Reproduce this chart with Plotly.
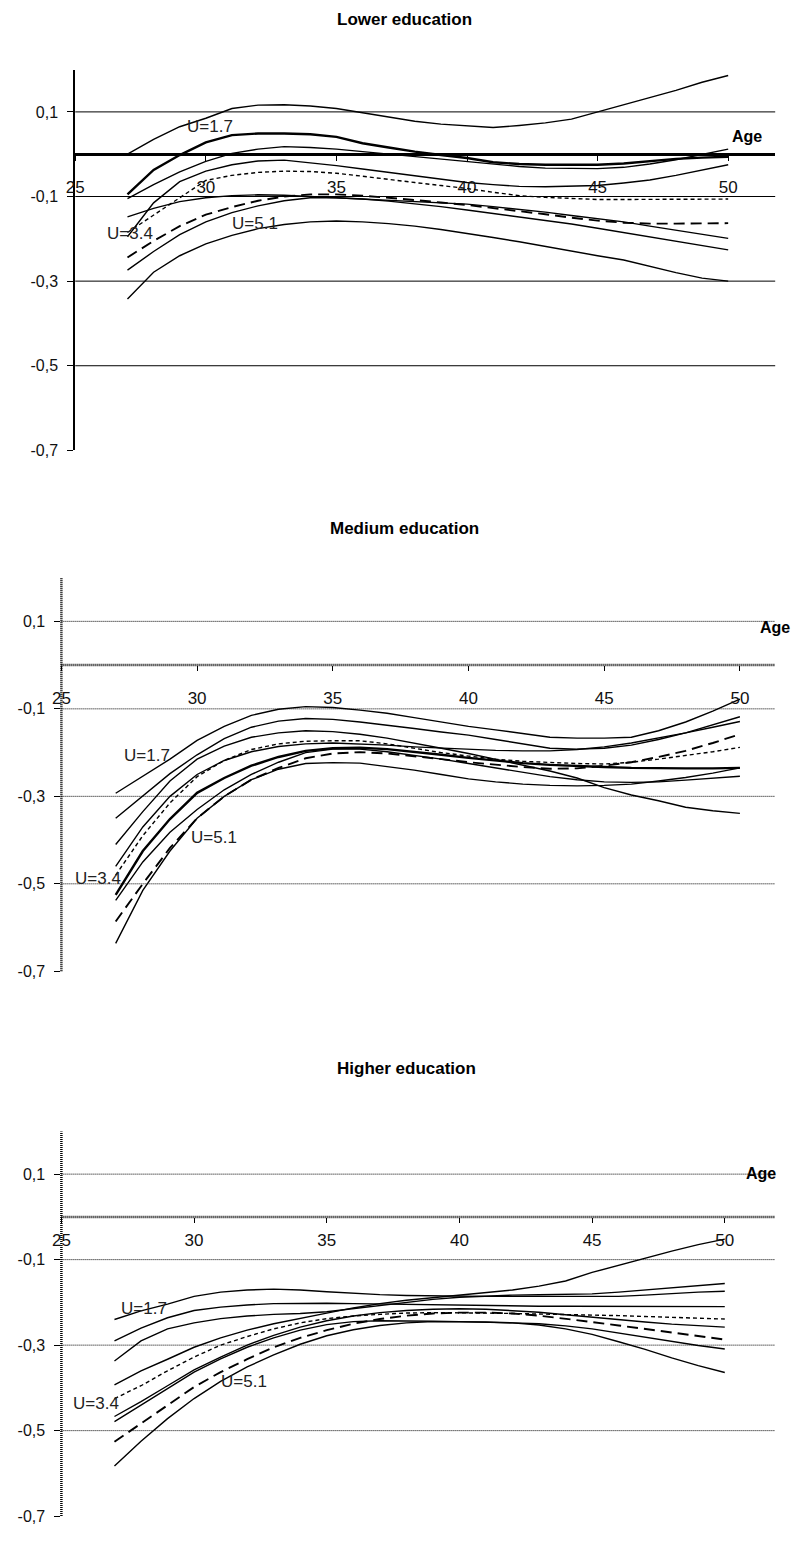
import plotly.graph_objects as go

# ---------------- data ----------------
ages = list(range(27, 51))
x_ticks = [25, 30, 35, 40, 45, 50]
y_ticks = [0.1, -0.1, -0.3, -0.5, -0.7]
y_ticktext = ["0,1", "-0,1", "-0,3", "-0,5", "-0,7"]
grid_vals = [0.1, -0.1, -0.3, -0.5]
panel_titles = ["Lower education", "Medium education", "Higher education"]
u_labels = ["U=1.7", "U=3.4", "U=5.1"]

# Lower education
low_a = [0.000, 0.035, 0.065, 0.085, 0.108, 0.116, 0.117, 0.114, 0.108, 0.098, 0.088, 0.078, 0.071, 0.067, 0.063, 0.068, 0.074, 0.083, 0.100, 0.116, 0.133, 0.151, 0.170, 0.186]
low_b = [-0.095, -0.037, -0.002, 0.028, 0.045, 0.049, 0.049, 0.047, 0.041, 0.026, 0.016, 0.006, -0.002, -0.009, -0.019, -0.023, -0.025, -0.025, -0.025, -0.022, -0.017, -0.011, -0.008, -0.006]
low_c = [-0.105, -0.072, -0.042, -0.017, 0.002, 0.012, 0.018, 0.016, 0.012, 0.006, 0.000, -0.005, -0.011, -0.017, -0.023, -0.029, -0.033, -0.034, -0.034, -0.031, -0.023, -0.013, 0.000, 0.012]
low_d = [-0.195, -0.115, -0.065, -0.040, -0.025, -0.016, -0.014, -0.020, -0.027, -0.035, -0.043, -0.052, -0.060, -0.067, -0.072, -0.076, -0.077, -0.076, -0.074, -0.068, -0.061, -0.050, -0.038, -0.025]
low_e = [-0.185, -0.145, -0.103, -0.062, -0.050, -0.043, -0.040, -0.041, -0.045, -0.052, -0.060, -0.067, -0.074, -0.081, -0.090, -0.098, -0.102, -0.105, -0.107, -0.107, -0.107, -0.107, -0.107, -0.106]
low_f = [-0.244, -0.205, -0.170, -0.143, -0.125, -0.110, -0.100, -0.095, -0.095, -0.098, -0.103, -0.108, -0.114, -0.120, -0.127, -0.134, -0.142, -0.150, -0.157, -0.162, -0.164, -0.164, -0.164, -0.163]
low_g = [-0.148, -0.128, -0.112, -0.103, -0.098, -0.096, -0.097, -0.100, -0.103, -0.106, -0.109, -0.112, -0.115, -0.118, -0.124, -0.130, -0.137, -0.145, -0.152, -0.160, -0.170, -0.180, -0.190, -0.199]
low_i = [-0.274, -0.230, -0.190, -0.160, -0.138, -0.122, -0.110, -0.103, -0.103, -0.106, -0.111, -0.117, -0.124, -0.132, -0.140, -0.148, -0.156, -0.165, -0.175, -0.185, -0.195, -0.205, -0.215, -0.226]
low_h = [-0.342, -0.279, -0.240, -0.212, -0.192, -0.176, -0.166, -0.160, -0.158, -0.160, -0.164, -0.170, -0.178, -0.187, -0.197, -0.207, -0.218, -0.230, -0.240, -0.250, -0.265, -0.280, -0.293, -0.300]

# Medium education
med_1 = [-0.293, -0.255, -0.215, -0.172, -0.140, -0.115, -0.101, -0.095, -0.097, -0.103, -0.110, -0.120, -0.130, -0.140, -0.148, -0.156, -0.165, -0.167, -0.167, -0.165, -0.150, -0.130, -0.105, -0.078]
med_2 = [-0.350, -0.298, -0.248, -0.205, -0.168, -0.142, -0.128, -0.122, -0.124, -0.130, -0.137, -0.145, -0.153, -0.160, -0.170, -0.180, -0.190, -0.192, -0.190, -0.183, -0.170, -0.155, -0.137, -0.118]
med_3 = [-0.410, -0.335, -0.265, -0.215, -0.185, -0.165, -0.155, -0.150, -0.152, -0.158, -0.167, -0.178, -0.190, -0.202, -0.215, -0.228, -0.242, -0.258, -0.280, -0.297, -0.310, -0.325, -0.333, -0.339]
med_4 = [-0.460, -0.370, -0.300, -0.250, -0.218, -0.198, -0.186, -0.180, -0.178, -0.180, -0.183, -0.187, -0.190, -0.193, -0.195, -0.196, -0.196, -0.193, -0.187, -0.178, -0.167, -0.155, -0.142, -0.129]
med_e = [-0.480, -0.390, -0.315, -0.255, -0.218, -0.193, -0.180, -0.174, -0.173, -0.173, -0.180, -0.190, -0.200, -0.208, -0.215, -0.220, -0.223, -0.225, -0.226, -0.222, -0.215, -0.207, -0.198, -0.188]
med_5 = [-0.525, -0.425, -0.352, -0.292, -0.258, -0.230, -0.210, -0.196, -0.190, -0.189, -0.192, -0.198, -0.205, -0.212, -0.218, -0.224, -0.228, -0.231, -0.233, -0.235, -0.236, -0.236, -0.236, -0.235]
med_6 = [-0.538, -0.450, -0.382, -0.330, -0.285, -0.250, -0.222, -0.200, -0.192, -0.192, -0.198, -0.206, -0.215, -0.225, -0.235, -0.245, -0.255, -0.262, -0.267, -0.268, -0.267, -0.263, -0.258, -0.254]
med_f = [-0.586, -0.500, -0.418, -0.350, -0.300, -0.262, -0.235, -0.213, -0.202, -0.199, -0.202, -0.208, -0.215, -0.222, -0.228, -0.233, -0.237, -0.236, -0.230, -0.222, -0.210, -0.196, -0.178, -0.158]
med_7 = [-0.636, -0.515, -0.425, -0.350, -0.300, -0.262, -0.238, -0.225, -0.223, -0.224, -0.232, -0.240, -0.250, -0.260, -0.267, -0.272, -0.275, -0.276, -0.275, -0.272, -0.265, -0.257, -0.247, -0.235]

# Higher education
high_1 = [-0.240, -0.220, -0.204, -0.186, -0.176, -0.171, -0.169, -0.171, -0.175, -0.179, -0.182, -0.184, -0.185, -0.186, -0.186, -0.186, -0.186, -0.187, -0.187, -0.186, -0.183, -0.179, -0.176, -0.174]
high_2 = [-0.290, -0.260, -0.236, -0.219, -0.211, -0.206, -0.203, -0.202, -0.202, -0.203, -0.204, -0.205, -0.206, -0.207, -0.208, -0.209, -0.209, -0.209, -0.209, -0.209, -0.209, -0.209, -0.210, -0.210]
high_3 = [-0.337, -0.290, -0.262, -0.248, -0.238, -0.232, -0.228, -0.226, -0.222, -0.215, -0.208, -0.200, -0.193, -0.188, -0.185, -0.183, -0.182, -0.181, -0.180, -0.176, -0.171, -0.166, -0.161, -0.156]
high_4 = [-0.393, -0.360, -0.333, -0.305, -0.283, -0.265, -0.250, -0.237, -0.225, -0.213, -0.203, -0.195, -0.189, -0.183, -0.178, -0.171, -0.162, -0.150, -0.130, -0.113, -0.097, -0.080, -0.065, -0.052]
high_e = [-0.425, -0.395, -0.360, -0.328, -0.300, -0.280, -0.262, -0.248, -0.238, -0.232, -0.228, -0.225, -0.224, -0.224, -0.225, -0.226, -0.227, -0.228, -0.229, -0.231, -0.233, -0.235, -0.237, -0.239]
high_5 = [-0.467, -0.432, -0.395, -0.358, -0.328, -0.300, -0.277, -0.258, -0.243, -0.232, -0.224, -0.219, -0.216, -0.215, -0.216, -0.219, -0.223, -0.229, -0.235, -0.241, -0.246, -0.251, -0.255, -0.258]
high_6 = [-0.479, -0.440, -0.400, -0.363, -0.332, -0.305, -0.283, -0.265, -0.252, -0.245, -0.243, -0.243, -0.244, -0.245, -0.246, -0.248, -0.250, -0.255, -0.262, -0.272, -0.282, -0.292, -0.301, -0.309]
high_f = [-0.526, -0.484, -0.440, -0.398, -0.363, -0.333, -0.305, -0.283, -0.265, -0.250, -0.239, -0.231, -0.226, -0.224, -0.224, -0.226, -0.231, -0.238, -0.246, -0.254, -0.262, -0.270, -0.279, -0.287]
high_7 = [-0.583, -0.525, -0.472, -0.425, -0.385, -0.351, -0.323, -0.298, -0.278, -0.264, -0.254, -0.248, -0.245, -0.245, -0.246, -0.248, -0.253, -0.262, -0.275, -0.292, -0.310, -0.330, -0.348, -0.364]

panels_series = [
    [(low_a, "thin"), (low_b, "bold"), (low_c, "thin"), (low_d, "thin"), (low_e, "short"),
     (low_f, "long"), (low_g, "thin"), (low_i, "thin"), (low_h, "thin")],
    [(med_1, "thin"), (med_2, "thin"), (med_3, "thin"), (med_4, "thin"), (med_e, "short"),
     (med_5, "bold"), (med_6, "thin"), (med_f, "long"), (med_7, "thin")],
    [(high_1, "thin"), (high_2, "thin"), (high_3, "thin"), (high_4, "thin"), (high_e, "short"),
     (high_5, "thin"), (high_6, "thin"), (high_f, "long"), (high_7, "thin")],
]

# ---------------- layout geometry (pixels) ----------------
W, H = 792, 1546
FONT = "Liberation Sans, Arial, sans-serif"
geom = [
    dict(x0=67, x1=775, xmax=51.8, ytop=70, ybot=453, solid=True, standoff=12,
         title=(400, 20), age=(746, 137), ulab=[(203, 127), (122, 235), (249, 225)]),
    dict(x0=53, x1=775, xmax=51.3, ytop=581, ybot=977, solid=False, standoff=12,
         title=(400, 532), age=(775, 631), ulab=[(140, 760), (90, 884), (207, 842)]),
    dict(x0=53, x1=775, xmax=51.9, ytop=1138, ybot=1525, solid=False, standoff=3,
         title=(402, 1075), age=(761, 1180), ulab=[(137, 1316), (88, 1412), (238, 1390)]),
]

styles = {
    "thin": dict(width=1.4, dash="solid"),
    "bold": dict(width=2.4, dash="solid"),
    "short": dict(width=1.4, dash="4px,3px"),
    "long": dict(width=1.9, dash="11px,6px"),
}


def px(x):
    return x / W


def py(y):
    return 1 - y / H


fig = go.Figure()
shapes = []
annotations = []
layout = {}

for k, (g, series) in enumerate(zip(geom, panels_series)):
    n = "" if k == 0 else str(k + 1)
    xa, ya = "x" + n, "y" + n
    for vals, st in series:
        fig.add_trace(go.Scatter(x=ages, y=vals, mode="lines", xaxis=xa, yaxis=ya,
                                 line=dict(color="black", **styles[st]),
                                 showlegend=False, hoverinfo="skip"))
    y0_px = g["ytop"] + (0.2 / 0.9) * (g["ybot"] - g["ytop"])
    layout["xaxis" + n] = dict(
        domain=[px(g["x0"]), px(g["x1"])], range=[25, g["xmax"]], anchor="free",
        position=py(y0_px), showline=g["solid"], linecolor="black", linewidth=2.5,
        tickvals=x_ticks, ticks="outside", ticklen=5, tickcolor="black", tickwidth=1,
        ticklabelstandoff=g["standoff"], showgrid=False, zeroline=False,
        tickfont=dict(family=FONT, size=17, color="#111"), fixedrange=True)
    layout["yaxis" + n] = dict(
        domain=[py(g["ybot"]), py(g["ytop"])], range=[-0.7, 0.2], anchor=xa,
        showline=g["solid"], linecolor="black", linewidth=2, tickvals=y_ticks,
        ticktext=y_ticktext, ticks="outside", ticklen=6, tickcolor="black",
        ticklabelstandoff=6, showgrid=False, zeroline=False,
        tickfont=dict(family=FONT, size=16, color="#111"), fixedrange=True)
    for gv in grid_vals:
        shapes.append(dict(type="line", xref=xa + " domain", yref=ya, x0=0, x1=1, y0=gv, y1=gv,
                           layer="below",
                           line=dict(color="black", width=1,
                                     dash="solid" if g["solid"] else "1px,1px")))
    if not g["solid"]:
        shapes.append(dict(type="line", xref=xa + " domain", yref=ya, x0=0, x1=1, y0=0, y1=0,
                           layer="below", line=dict(color="black", width=2.5, dash="1px,1px")))
        shapes.append(dict(type="line", xref=xa + " domain", yref=ya + " domain", x0=0, x1=0,
                           y0=0, y1=1, layer="below",
                           line=dict(color="black", width=2.5, dash="1px,1px")))
    annotations.append(dict(text="<b>%s</b>" % panel_titles[k], x=px(g["title"][0]),
                            y=py(g["title"][1]), xref="paper", yref="paper", showarrow=False,
                            xanchor="center", yanchor="middle",
                            font=dict(family=FONT, size=17, color="black")))
    annotations.append(dict(text="<b>Age</b>", x=px(g["age"][0]), y=py(g["age"][1]),
                            xref="paper", yref="paper", showarrow=False, xanchor="center",
                            yanchor="middle", font=dict(family=FONT, size=16, color="black")))
    for lab, (lx, ly) in zip(u_labels, g["ulab"]):
        annotations.append(dict(text=lab, x=px(lx), y=py(ly), xref="paper", yref="paper",
                                showarrow=False, xanchor="center", yanchor="middle",
                                font=dict(family=FONT, size=17, color="#222")))

fig.update_layout(width=W, height=H, autosize=False, margin=dict(l=0, r=0, t=0, b=0),
                  paper_bgcolor="white", plot_bgcolor="white", shapes=shapes,
                  annotations=annotations, showlegend=False, **layout)

fig.write_html("out.html", config={"displayModeBar": False},
               post_script="document.body.style.margin='0';")
